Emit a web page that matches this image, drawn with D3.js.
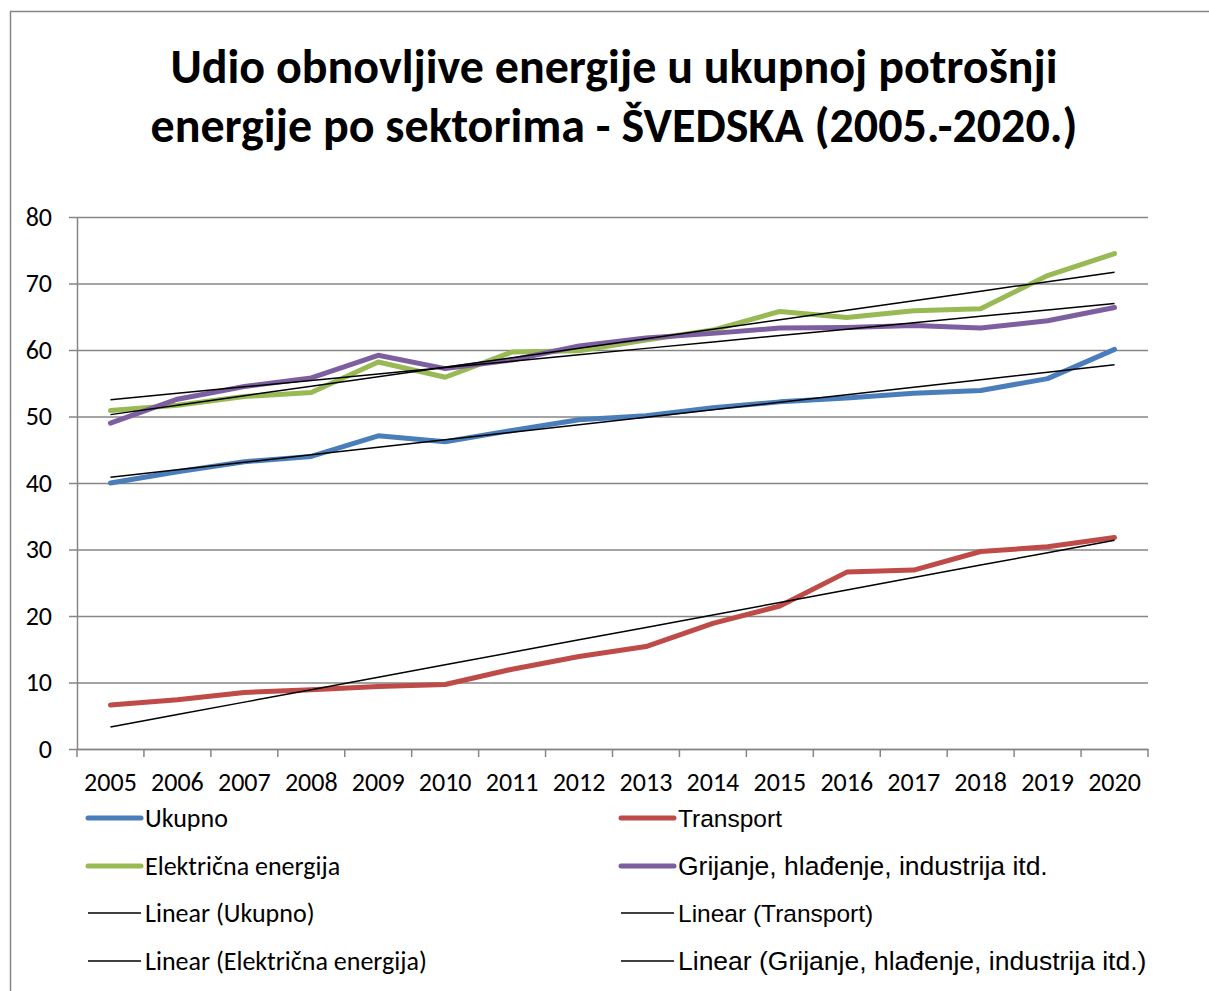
<!DOCTYPE html>
<html>
<head>
<meta charset="utf-8">
<script src="https://cdn.jsdelivr.net/npm/d3@7"></script>
<style>
  body { margin: 0; background: #fff; }
  svg { display: block; }
</style>
</head>
<body>
<div id="chart"></div>
<script>
// Data
var years = ["2005", "2006", "2007", "2008", "2009", "2010", "2011", "2012",
             "2013", "2014", "2015", "2016", "2017", "2018", "2019", "2020"];
var ukupno = [40.0, 41.7, 43.2, 44.0, 47.1, 46.2, 47.9, 49.5, 50.1, 51.3, 52.2, 52.8, 53.5, 53.9, 55.7, 60.1];
var transport = [6.6, 7.4, 8.5, 8.9, 9.4, 9.7, 12.0, 13.9, 15.4, 18.9, 21.5, 26.6, 26.9, 29.7, 30.4, 31.8];
var elektricna = [50.9, 51.7, 53.0, 53.6, 58.2, 55.9, 59.7, 59.9, 61.5, 63.0, 65.8, 64.9, 65.9, 66.2, 71.2, 74.5];
var grijanje = [49.0, 52.6, 54.5, 55.8, 59.2, 57.2, 58.5, 60.6, 61.8, 62.5, 63.3, 63.4, 63.7, 63.3, 64.4, 66.4];
var yTicks = [0, 10, 20, 30, 40, 50, 60, 70, 80];

var seriesNames = ["Ukupno", "Transport", "Električna energija", "Grijanje, hlađenje, industrija itd."];
var seriesValues = [ukupno, transport, elektricna, grijanje];
var seriesColors = ["#4a7ebb", "#be4b48", "#98b954", "#7d5fa0"];

var svgWidth = 1209;
var svgHeight = 991;

var margin = { top: 217, right: 61, bottom: 242, left: 77 };
var width = svgWidth - margin.left - margin.right;
var height = svgHeight - margin.top - margin.bottom;

var calibri = "Carlito, Calibri, Lato, sans-serif";
var arial = "'Liberation Sans', Arial, sans-serif";

var svg = d3.select("#chart")
  .append("svg")
  .attr("width", svgWidth)
  .attr("height", svgHeight);

// outer chart border (only left and top edges are visible in the frame)
svg.append("rect")
  .attr("x", 10.5)
  .attr("y", 11.5)
  .attr("width", 1220)
  .attr("height", 1000)
  .attr("fill", "#fff")
  .attr("stroke", "#868686")
  .attr("stroke-width", 1.5);

// title
var title = svg.append("text")
  .attr("text-anchor", "middle")
  .attr("font-family", calibri)
  .attr("font-weight", "bold")
  .attr("font-size", 48)
  .attr("fill", "#000");
title.append("tspan").attr("x", 614).attr("y", 83).text("Udio obnovljive energije u ukupnoj potrošnji");
title.append("tspan").attr("x", 614).attr("y", 142).text("energije po sektorima - ŠVEDSKA (2005.-2020.)");

var chartGroup = svg.append("g")
  .attr("transform", `translate(${margin.left}, ${margin.top})`);

var xScale = d3.scaleBand()
  .domain(years)
  .range([0, width])
  .padding(0);

var yScale = d3.scaleLinear()
  .domain([0, 80])
  .range([height, 0]);

var xMid = d => xScale(d) + xScale.bandwidth() / 2;

// horizontal gridlines
chartGroup.append("g")
  .call(d3.axisLeft(yScale).tickValues(yTicks).tickSize(-width).tickFormat(""))
  .call(g => g.select(".domain").remove())
  .selectAll("line")
  .attr("stroke", "#868686")
  .attr("stroke-width", 1.5);

// y axis
var leftAxis = d3.axisLeft(yScale).tickValues(yTicks).tickSize(8).tickPadding(17).tickSizeOuter(0);
chartGroup.append("g")
  .call(leftAxis)
  .call(g => g.select(".domain").attr("stroke", "#868686").attr("stroke-width", 1.5))
  .call(g => g.selectAll("line").attr("stroke", "#868686").attr("stroke-width", 1.5))
  .call(g => g.selectAll("text")
    .attr("font-family", calibri)
    .attr("font-size", 26)
    .attr("fill", "#000"));

// x axis: labels at band centres, tick marks at band edges
var bottomAxis = d3.axisBottom(xScale).tickSize(0).tickPadding(24).tickSizeOuter(0);
var xAxisG = chartGroup.append("g")
  .attr("transform", `translate(0, ${height})`)
  .call(bottomAxis);
xAxisG.select(".domain").attr("stroke", "#868686").attr("stroke-width", 1.5);
xAxisG.selectAll("text")
  .attr("font-family", calibri)
  .attr("font-size", 26)
  .attr("fill", "#000");
var edges = years.map(d => xScale(d)).concat([width]);
xAxisG.selectAll(".edge")
  .data(edges)
  .enter()
  .append("line")
  .attr("class", "edge")
  .attr("x1", d => d)
  .attr("x2", d => d)
  .attr("y1", 0)
  .attr("y2", 8)
  .attr("stroke", "#868686")
  .attr("stroke-width", 1.5);

// series lines
var line = d3.line()
  .x((v, i) => xMid(years[i]))
  .y(v => yScale(v));

seriesValues.forEach(function(vals, k) {
  chartGroup.append("path")
    .datum(vals)
    .attr("fill", "none")
    .attr("stroke", seriesColors[k])
    .attr("stroke-width", 5)
    .attr("stroke-linejoin", "round")
    .attr("stroke-linecap", "round")
    .attr("d", line);
});

// linear trendlines (least squares, like the spreadsheet's "Linear" trend)
function linearFit(vals) {
  var n = vals.length;
  var xs = d3.range(n);
  var mx = d3.mean(xs), my = d3.mean(vals);
  var sxy = d3.sum(xs, (x, i) => (x - mx) * (vals[i] - my));
  var sxx = d3.sum(xs, x => (x - mx) * (x - mx));
  var b = sxy / sxx;
  var a = my - b * mx;
  return xs.map(x => a + b * x);
}

seriesValues.forEach(function(vals) {
  chartGroup.append("path")
    .datum(linearFit(vals))
    .attr("fill", "none")
    .attr("stroke", "#000")
    .attr("stroke-width", 1.5)
    .attr("d", line);
});

// legend
var legendItems = [
  { name: "Ukupno", color: seriesColors[0], w: 5, col: 0, row: 0, font: calibri, size: 26 },
  { name: "Transport", color: seriesColors[1], w: 5, col: 1, row: 0, font: arial, size: 24.5 },
  { name: "Električna energija", color: seriesColors[2], w: 5, col: 0, row: 1, font: calibri, size: 26 },
  { name: "Grijanje, hlađenje, industrija itd.", color: seriesColors[3], w: 5, col: 1, row: 1, font: arial, size: 26.5 },
  { name: "Linear (Ukupno)", color: "#000", w: 1.5, col: 0, row: 2, font: calibri, size: 26 },
  { name: "Linear (Transport)", color: "#000", w: 1.5, col: 1, row: 2, font: arial, size: 24.5 },
  { name: "Linear (Električna energija)", color: "#000", w: 1.5, col: 0, row: 3, font: calibri, size: 26 },
  { name: "Linear (Grijanje, hlađenje, industrija itd.)", color: "#000", w: 1.5, col: 1, row: 3, font: arial, size: 26.5 }
];
var colX = [88, 621];
var rowY = [818, 866, 913, 961];

var legend = svg.append("g");
var li = legend.selectAll("g")
  .data(legendItems)
  .enter()
  .append("g")
  .attr("transform", d => `translate(${colX[d.col]}, ${rowY[d.row]})`);
li.append("line")
  .attr("x1", 0)
  .attr("x2", 53)
  .attr("y1", 0)
  .attr("y2", 0)
  .attr("stroke", d => d.color)
  .attr("stroke-width", d => d.w)
  .attr("stroke-linecap", d => d.w > 2 ? "round" : "butt");
li.append("text")
  .attr("x", 57)
  .attr("y", 0)
  .attr("dy", "0.35em")
  .attr("font-family", d => d.font)
  .attr("font-size", d => d.size)
  .attr("fill", "#000")
  .text(d => d.name);
</script>
</body>
</html>
